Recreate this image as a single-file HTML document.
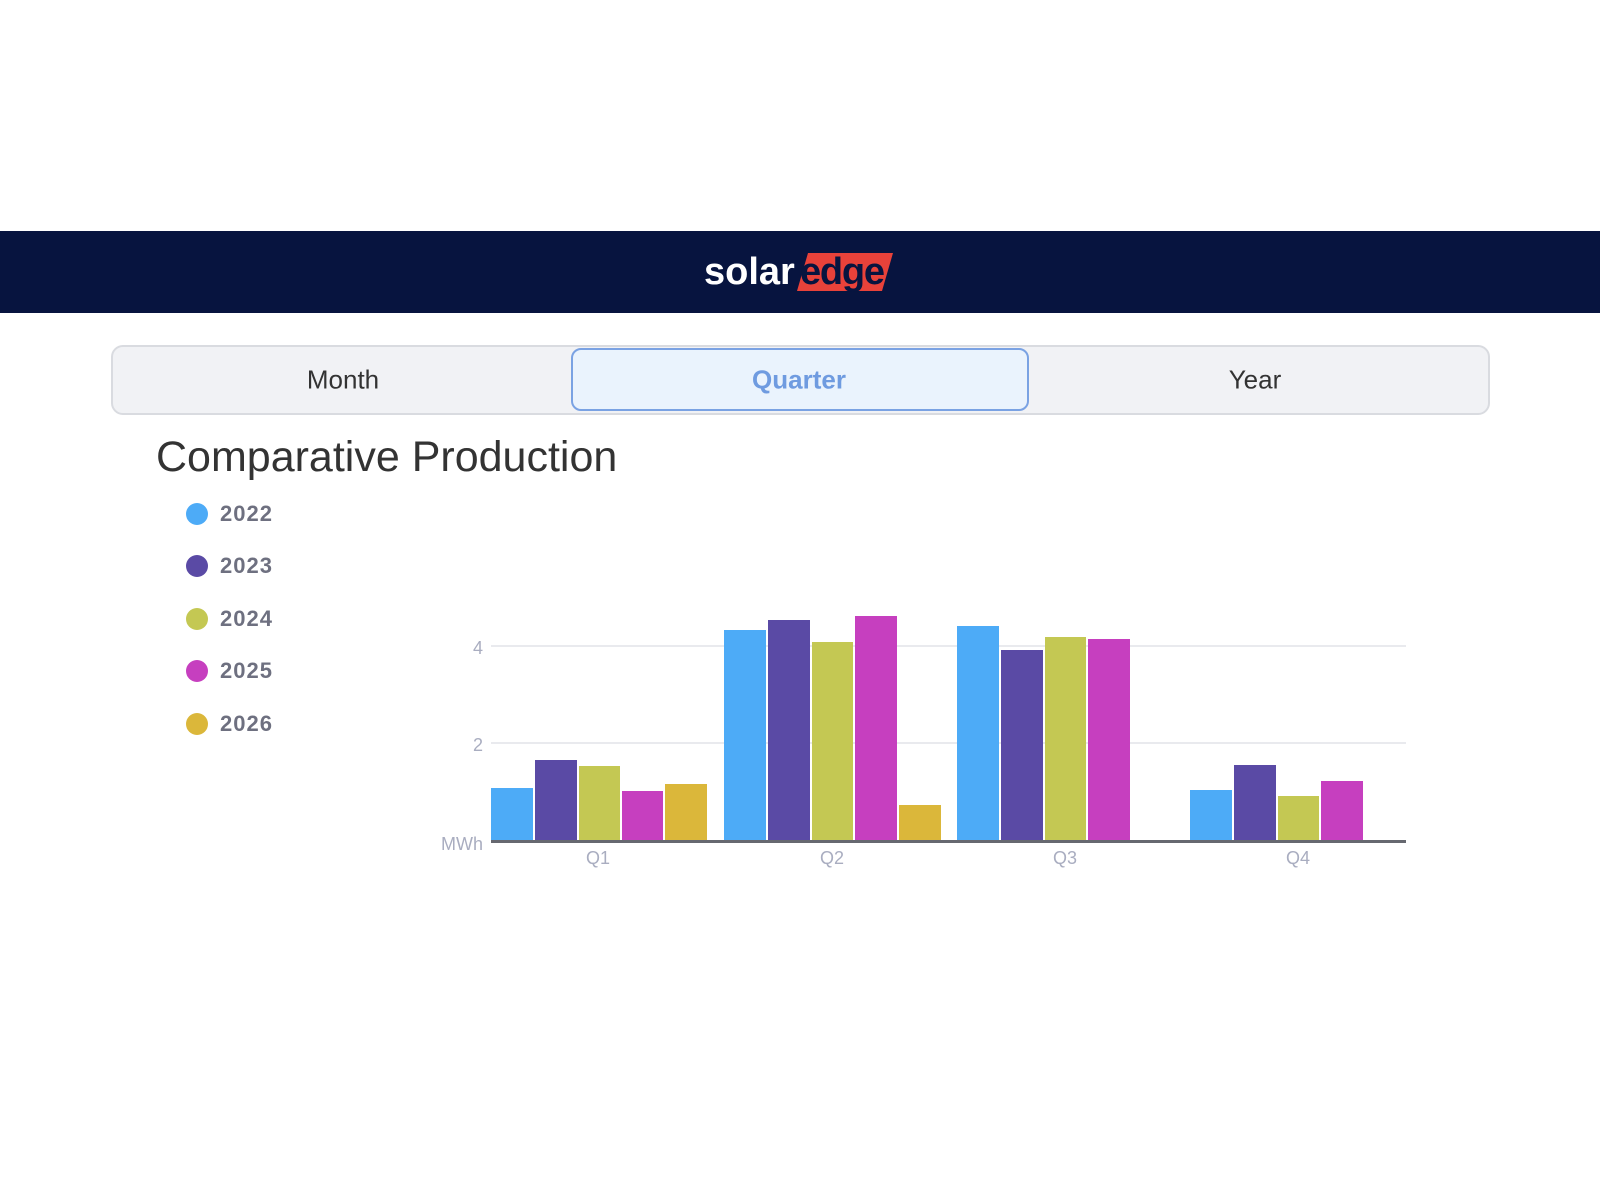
<!DOCTYPE html>
<html><head><meta charset="utf-8"><style>
body{margin:0;width:1600px;height:1200px;background:#fff;font-family:"Liberation Sans",sans-serif;position:relative;overflow:hidden}
.hdr{position:absolute;left:0;top:231px;width:1600px;height:82px;background:#07143f}
.tog{position:absolute;left:111px;top:345px;width:1375px;height:66px;background:#f1f2f5;border:2px solid #d9dbe0;border-radius:12px}
.t{position:absolute;top:380px;transform:translate(-50%,-50%);font-size:26px;color:#333}
.act{position:absolute;left:571px;top:348px;width:454px;height:59px;background:#eaf3fd;border:2px solid #7aa2e3;border-radius:10px}
.lg{position:absolute;left:186px;width:22px;height:22px;border-radius:50%}
.lt{position:absolute;left:220px;font-size:22px;color:#6e7080;font-weight:bold;letter-spacing:1px}
</style></head><body>
<div class="hdr"></div>
<svg style="position:absolute;left:0;top:0" width="1600" height="320">
<polygon points="808,253 893,253 882,291 797,291" fill="#e8423a"/>
<text x="704" y="284" font-family="Liberation Sans" font-weight="bold" font-size="38" fill="#fff">solar</text>
<text x="800" y="284" font-family="Liberation Sans" font-weight="bold" font-size="38" fill="#07143f" textLength="85">edge</text>
</svg>
<div class="tog"></div>
<div class="act"></div>
<div class="t" style="left:343px">Month</div>
<div class="t" style="left:799px;color:#6f9be0;font-weight:bold">Quarter</div>
<div class="t" style="left:1255px">Year</div>
<div style="position:absolute;left:156px;top:433px;font-size:43px;color:#333">Comparative Production</div>
<div class="lg" style="top:503px;background:#4dabf7"></div><div class="lt" style="top:501px">2022</div>
<div class="lg" style="top:555px;background:#5a4aa5"></div><div class="lt" style="top:553px">2023</div>
<div class="lg" style="top:608px;background:#c4c853"></div><div class="lt" style="top:606px">2024</div>
<div class="lg" style="top:660px;background:#c63fbf"></div><div class="lt" style="top:658px">2025</div>
<div class="lg" style="top:713px;background:#dbb73a"></div><div class="lt" style="top:711px">2026</div>
<svg style="position:absolute;left:0;top:0" width="1600" height="1200" font-family="Liberation Sans">
<line x1="491" y1="646" x2="1406" y2="646" stroke="#e2e3e8" stroke-width="1.5"/>
<line x1="491" y1="743" x2="1406" y2="743" stroke="#e2e3e8" stroke-width="1.5"/>
<g font-size="18" fill="#a9adc0" text-anchor="end">
<text x="483" y="654">4</text><text x="483" y="751">2</text><text x="483" y="850">MWh</text></g>
<g>
<rect x="491" y="788" width="42" height="53" fill="#4dabf7"/>
<rect x="535" y="760" width="42" height="81" fill="#5a4aa5"/>
<rect x="579" y="766" width="41" height="75" fill="#c4c853"/>
<rect x="622" y="791" width="41" height="50" fill="#c63fbf"/>
<rect x="665" y="784" width="42" height="57" fill="#dbb73a"/>
<rect x="724" y="630" width="42" height="211" fill="#4dabf7"/>
<rect x="768" y="620" width="42" height="221" fill="#5a4aa5"/>
<rect x="812" y="642" width="41" height="199" fill="#c4c853"/>
<rect x="855" y="616" width="42" height="225" fill="#c63fbf"/>
<rect x="899" y="805" width="42" height="36" fill="#dbb73a"/>
<rect x="957" y="626" width="42" height="215" fill="#4dabf7"/>
<rect x="1001" y="650" width="42" height="191" fill="#5a4aa5"/>
<rect x="1045" y="637" width="41" height="204" fill="#c4c853"/>
<rect x="1088" y="639" width="42" height="202" fill="#c63fbf"/>
<rect x="1190" y="790" width="42" height="51" fill="#4dabf7"/>
<rect x="1234" y="765" width="42" height="76" fill="#5a4aa5"/>
<rect x="1278" y="796" width="41" height="45" fill="#c4c853"/>
<rect x="1321" y="781" width="42" height="60" fill="#c63fbf"/>
</g>
<line x1="491" y1="841.5" x2="1406" y2="841.5" stroke="#666870" stroke-width="3"/>
<g font-size="18" fill="#a9adc0" text-anchor="middle">
<text x="598" y="864">Q1</text><text x="832" y="864">Q2</text><text x="1065" y="864">Q3</text><text x="1298" y="864">Q4</text></g>
</svg>
</body></html>
